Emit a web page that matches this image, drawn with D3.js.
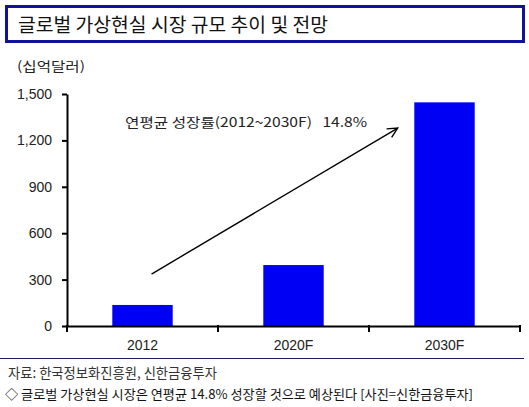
<!DOCTYPE html>
<html><head><meta charset="utf-8">
<script src="https://cdn.jsdelivr.net/npm/d3@7"></script>
<style>
body{margin:0;background:#fff;}
text{font-family:"Liberation Sans",Arial,"Noto Sans CJK KR",sans-serif;}
.kr{font-family:"Noto Sans CJK KR","Liberation Sans",sans-serif;}
</style></head>
<body>
<svg id="c" width="529" height="407"></svg>
<script>
const categories = ["2012", "2020F", "2030F"];
const values = [136, 394, 1446];
const yTicks = [0, 300, 600, 900, 1200, 1500];
const title = "글로벌 가상현실 시장 규모 추이 및 전망";
const unit = "(십억달러)";
const annotation = "연평균 성장률(2012~2030F)\u00a0\u00a0 14.8%";
const source = "자료: 한국정보화진흥원, 신한금융투자";
const caption = "◇ 글로벌 가상현실 시장은 연평균 14.8% 성장할 것으로 예상된다 [사진=신한금융투자]";

const svg = d3.select("#c");

// title box
svg.append("rect").attr("x",6.5).attr("y",6.5).attr("width",517).attr("height",35)
  .attr("fill","#fff").attr("stroke","#11119a").attr("stroke-width",3);
svg.append("text").attr("class","kr").attr("x",18).attr("y",32)
  .attr("font-size",19).attr("fill","#111").attr("textLength",310).attr("lengthAdjust","spacingAndGlyphs")
  .text(title);

svg.append("text").attr("class","kr").attr("x",17).attr("y",71)
  .attr("font-size",13).attr("fill","#222").attr("textLength",68).attr("lengthAdjust","spacingAndGlyphs")
  .text(unit);

const x = d3.scaleBand().domain(categories).range([67, 520]).padding(0);
const y = d3.scaleLinear().domain([0, 1500]).range([326, 94]);

// bars
const bw = x.bandwidth()*0.4;
svg.selectAll("rect.bar").data(categories).enter().append("rect").attr("class","bar")
  .attr("x", d => x(d) + (x.bandwidth()-bw)/2)
  .attr("y", (d,i) => y(values[i]))
  .attr("width", bw)
  .attr("height", (d,i) => y(0) - y(values[i]))
  .attr("fill","#0000f5");

// y axis
const ya = svg.append("g").attr("transform","translate(67,0)")
  .call(d3.axisLeft(y).tickValues(yTicks).tickSize(5).tickSizeOuter(0).tickPadding(10)
    .tickFormat(d3.format(",")));
ya.select(".domain").attr("stroke","#000").attr("stroke-width",2);
ya.selectAll(".tick line").attr("stroke","#000").attr("stroke-width",2);
ya.selectAll(".tick text").attr("font-size",14).attr("fill","#222")
  .attr("font-family","'Liberation Sans',Arial,sans-serif");

// x axis
const xa = svg.append("g").attr("transform","translate(0,326)")
  .call(d3.axisBottom(x).tickSize(0).tickSizeOuter(0).tickPadding(14));
xa.select(".domain").attr("stroke","#000").attr("stroke-width",2);
xa.selectAll(".tick text").attr("font-size",14).attr("fill","#222")
  .attr("font-family","'Liberation Sans',Arial,sans-serif");
const bounds = categories.map(d => x(d)).concat([x.range()[1]]);
svg.selectAll("line.xt").data(bounds).enter().append("line").attr("class","xt")
  .attr("x1", d => d).attr("x2", d => d).attr("y1",325).attr("y2",332)
  .attr("stroke","#000").attr("stroke-width",2);

// arrow annotation (in data/band units)
const ax1 = x("2012") + x.step()*0.56, ay1 = y(336);
const ax2 = x("2030F") + x.step()*0.19, ay2 = y(1280);
svg.append("defs").append("marker").attr("id","ah").attr("viewBox","0 0 12 12")
  .attr("refX",11).attr("refY",6).attr("markerWidth",12).attr("markerHeight",12)
  .attr("markerUnits","userSpaceOnUse").attr("orient","auto")
  .append("path").attr("d","M1,1 L11,6 L1,11").attr("fill","none").attr("stroke","#000").attr("stroke-width",1.4);
svg.append("line").attr("x1",ax1).attr("y1",ay1).attr("x2",ax2).attr("y2",ay2)
  .attr("stroke","#000").attr("stroke-width",1.4).attr("marker-end","url(#ah)");

svg.append("text").attr("class","kr").attr("x", x("2012") + x.step()*0.385).attr("y", y(1319)+5)
  .attr("font-size",13).attr("fill","#222").attr("textLength",242).attr("lengthAdjust","spacingAndGlyphs")
  .text(annotation);

// bottom line and notes
svg.append("line").attr("x1",0).attr("x2",524).attr("y1",358.5).attr("y2",358.5)
  .attr("stroke","#1b1b60").attr("stroke-width",1.2);
svg.append("text").attr("class","kr").attr("x",8).attr("y",378)
  .attr("font-size",14).attr("fill","#333").attr("textLength",209).attr("lengthAdjust","spacingAndGlyphs")
  .text(source);
svg.append("text").attr("class","kr").attr("x",5).attr("y",399)
  .attr("font-size",13).attr("fill","#111").attr("textLength",468).attr("lengthAdjust","spacingAndGlyphs")
  .text(caption);
</script>
</body></html>
